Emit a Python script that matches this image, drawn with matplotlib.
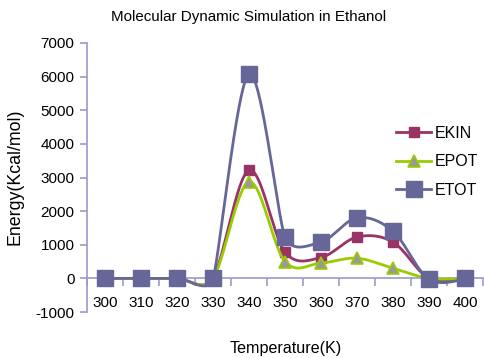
import numpy as np
import matplotlib
matplotlib.use("Agg")
import matplotlib.pyplot as plt
from matplotlib.lines import Line2D

plt.rcParams['font.family'] = ['Liberation Sans', 'DejaVu Sans']
plt.rcParams['axes.unicode_minus'] = False

temperatures = [300, 310, 320, 330, 340, 350, 360, 370, 380, 390, 400]
ekin = [0, 0, 0, 0, 3220, 780, 620, 1230, 1080, 0, 0]
epot = [0, 0, 0, 0, 2870, 500, 460, 600, 300, 0, 0]
etot = [0, 0, 0, 0, 6080, 1230, 1080, 1800, 1400, -30, 0]

series_names = ["EKIN", "EPOT", "ETOT"]
line_colors = ["#993366", "#99cc00", "#666699"]
axis_color = "#9a9acc"


def smooth_pixels(pts, n=40):
    """Bezier smoothing in display space; control arms are capped at half
    the length of the neighbouring segment."""
    pts = np.asarray(pts, float)
    m = len(pts)
    tangents = np.zeros_like(pts)
    for i in range(m):
        p0 = pts[max(i - 1, 0)]
        p1 = pts[i]
        p2 = pts[min(i + 1, m - 1)]
        d01 = np.hypot(*(p1 - p0))
        d12 = np.hypot(*(p2 - p1))
        d02 = np.hypot(*(p2 - p0))
        if d02 == 0:
            continue
        f = 1 / 6
        if d02 / 6 > d01 / 2 or d02 / 6 > d12 / 2:
            f = 0.5 * min(d01, d12) / d02
        tangents[i] = f * (p2 - p0)
    t = np.linspace(0, 1, n)[:, None]
    out = []
    for i in range(m - 1):
        a, d = pts[i], pts[i + 1]
        b = a + tangents[i]
        c = d - tangents[i + 1]
        seg = (1 - t) ** 3 * a + 3 * (1 - t) ** 2 * t * b + 3 * (1 - t) * t ** 2 * c + t ** 3 * d
        out.append(seg)
    return np.vstack(out)


fig = plt.figure(figsize=(4.84, 3.58), dpi=100)
ax = fig.add_axes([87 / 484, (358 - 312) / 358, 396 / 484, (312 - 43) / 358])

idx = np.arange(len(temperatures))
ax.set_xlim(-0.5, len(temperatures) - 0.5)
ax.set_ylim(-1000, 7000)

marker_styles = [
    dict(marker="s", markersize=7, markerfacecolor="#993366", markeredgecolor="#993366"),
    dict(marker="^", markersize=8.5, markerfacecolor="#999999", markeredgecolor="#99cc00", markeredgewidth=1.2),
    dict(marker="s", markersize=11.5, markerfacecolor="#666699", markeredgecolor="#666699"),
]

handles = []
for k, (vals, color, mstyle) in enumerate(zip([ekin, epot, etot], line_colors, marker_styles)):
    disp = ax.transData.transform(np.column_stack([idx, vals]))
    curve = ax.transData.inverted().transform(smooth_pixels(disp))
    ax.plot(curve[:, 0], curve[:, 1], color=color, lw=2, zorder=3 + k, solid_capstyle="round")
    ax.plot(idx, vals, linestyle="none", zorder=3 + k, **mstyle)
    handles.append(Line2D([0], [0], color=color, lw=2, **mstyle))

ax.set_yticks(np.arange(-1000, 7001, 1000))

for s in ["top", "right"]:
    ax.spines[s].set_visible(False)
ax.spines["left"].set_color(axis_color)
ax.spines["left"].set_linewidth(1.2)
ax.spines["bottom"].set_position(("data", 0))
ax.spines["bottom"].set_color(axis_color)
ax.spines["bottom"].set_linewidth(1.2)

ax.set_xticks(idx)
ax.set_xticklabels([str(t) for t in temperatures])
ax.set_xticks(np.arange(-0.5, len(temperatures), 1), minor=True)
ax.tick_params(axis="x", which="major", length=0, pad=13, labelsize=11)
ax.tick_params(axis="x", which="minor", length=6, width=1.2, color=axis_color, direction="out")
ax.tick_params(axis="y", length=5, width=1.2, color=axis_color, direction="out", labelsize=11, pad=4)

fig.text(249 / 484, (358 - 17) / 358, "Molecular Dynamic Simulation in Ethanol",
         fontsize=10.9, ha="center", va="center")
fig.text(0.03, (358 - 177) / 358, "Energy(Kcal/mol)", rotation=90, fontsize=12.8,
         ha="center", va="center")
fig.text(286 / 484, (358 - 348) / 358, "Temperature(K)", fontsize=11.6, ha="center", va="center")

ax.legend(handles, series_names, loc="center left", bbox_to_anchor=(388 / 484, (358 - 162) / 358),
          bbox_transform=fig.transFigure, frameon=False, fontsize=11.5, handlelength=2.2,
          handletextpad=0.2, labelspacing=0.85, borderpad=0)

fig.savefig("out.png", dpi=100)
